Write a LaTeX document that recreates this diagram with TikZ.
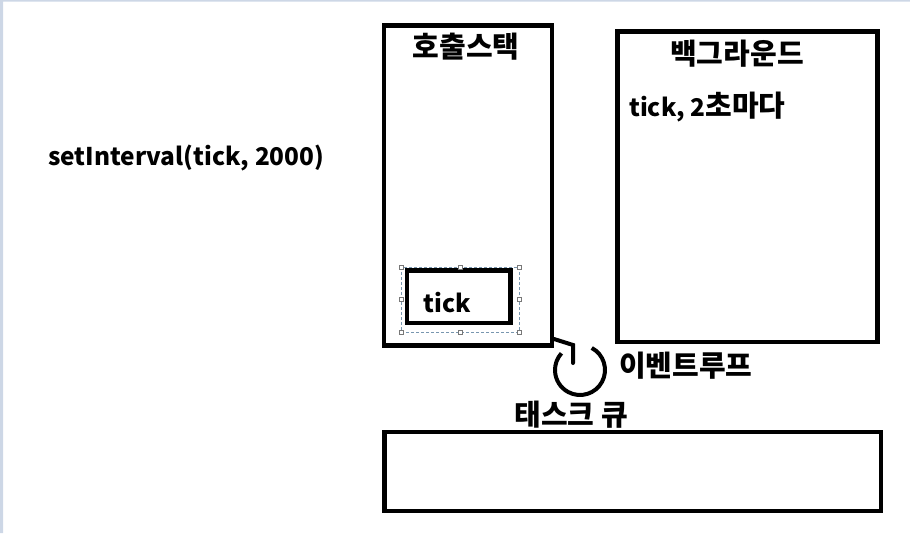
\documentclass[tikz,border=0pt]{standalone}
\usepackage{fontspec}
\setmainfont{Noto Sans CJK KR}
\definecolor{edgeblue}{RGB}{205,215,230}
\definecolor{selline}{RGB}{120,150,175}
\definecolor{handle}{RGB}{120,120,120}
\newcommand\kr[1]{{\fontsize{29}{32}\selectfont #1}}
\begin{document}
\begin{tikzpicture}[x=1pt, y=-1pt, font=\fontsize{24.4}{30}\selectfont\bfseries, line join=miter,
	panel/.style={draw, line width=4.5pt, minimum width=#1},
	lbl/.style={inner sep=0pt},
	grip/.style={draw=handle, fill=white, line width=0.6pt, minimum size=4pt, inner sep=0pt}]
		\useasboundingbox (0,0) rectangle (910,533);
		\fill[edgeblue] (0,0) rectangle (3,533) (0,0) rectangle (910,1.5);
		% Kästen
		\node[panel=168pt, minimum height=320pt] (stack) at (468,185.5) {};
		\node[panel=260pt, minimum height=310.5pt] (back) at (747.5,186.75) {};
		\node[panel=496.5pt, minimum height=79pt] (queue) at (632.75,471.5) {};
		\node[panel=103.5pt, minimum height=52.5pt] (tickbox) at (458.75,296.75) {};
		% Auswahlrahmen
		\draw[selline, dashed, line width=0.6pt, dash pattern=on 3pt off 2pt] (401,267) rectangle (519,332);
		\foreach \gx in {401,460,519} \foreach \gy in {267,332} \node[grip] (g\gx\gy) at (\gx,\gy) {};
		\node[grip] (gl) at (401,299.5) {}; \node[grip] (gr) at (519,299.5) {};
		% Texte
		\node[lbl] (stacklbl) at (466,47) {\kr{호출스택}};
		\node[lbl] (backlbl) at (737,54) {\kr{백그라운드}};
		\node[lbl, anchor=west] (every) at (629,107) {tick, 2\kr{초마다}};
		\node[lbl, anchor=west] (call) at (48,158) {setInterval(tick, 2000)};
		\node[lbl] (ticklbl) at (447,303) {tick};
		\node[lbl, anchor=west] (looplbl) at (619,366) {\kr{이벤트루프}};
		\node[lbl] (queuelbl) at (571,415) {\kr{태스크 큐}};
		% Ereignisschleife
		\coordinate (loop) at (580,370);
		\draw[line width=4pt] ([shift={(62:25pt)}]loop) arc[start angle=62, end angle=-222, radius=25pt];
		\draw[line width=4pt, line cap=round] (554,339) -- (573,345) -- (573,363);
\end{tikzpicture}
\end{document}
